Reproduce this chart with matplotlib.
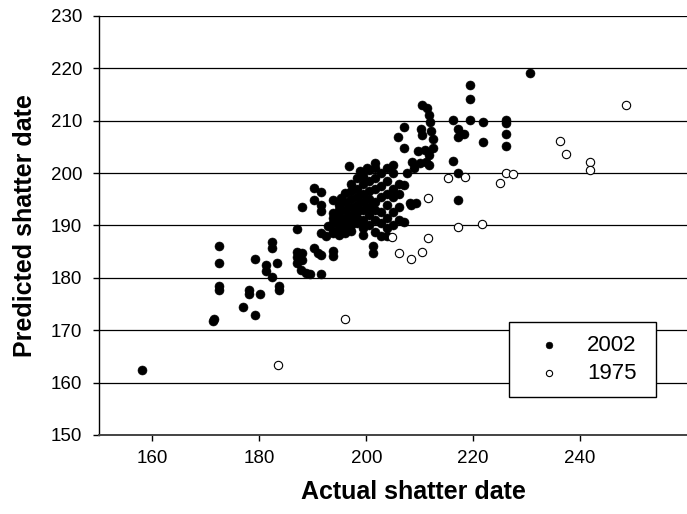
import matplotlib
matplotlib.use("Agg")
from matplotlib import pyplot as plt

plt.rcParams["font.family"] = ["Liberation Sans", "DejaVu Sans"]

# 2002 season: actual vs predicted shatter date
x_2002 = [158.0, 171.3, 171.5, 172.4, 172.4, 172.4, 172.4, 177.0, 178.0, 178.0,
          179.1, 179.1, 180.2, 181.3, 181.3, 182.3, 182.3, 182.3, 183.3, 183.6,
          183.6, 187.0, 187.0, 187.0, 187.0, 188.0, 188.0, 187.7, 188.7, 189.5,
          191.5, 188.0, 190.2, 191.5, 190.2, 191.5, 191.5, 190.2, 191.0, 191.6,
          193.7, 193.7, 191.5, 192.4, 192.8, 193.7, 195.2, 196.1, 193.7, 196.7,
          193.8, 193.8, 193.8, 193.8,
          194.9, 194.9, 194.9, 194.9, 194.9, 194.9, 194.9,
          196.0, 196.0, 196.0, 196.0, 196.0, 196.0,
          197.1, 197.1, 197.1, 197.1, 197.1, 197.1, 197.1, 197.1,
          198.3, 198.3, 198.3, 198.3, 198.3, 198.3, 198.3,
          199.4, 199.4, 199.4, 199.4, 199.4, 199.4, 199.4, 199.4,
          200.5, 200.5, 200.5, 200.5, 200.5, 200.5, 200.5, 201.2, 201.2,
          201.6, 201.6, 201.6, 201.6, 201.6, 201.6, 201.6, 201.6,
          202.8, 202.8, 202.8, 202.8, 202.8, 202.8,
          203.9, 203.9, 203.9, 203.9, 203.9, 203.9, 203.9,
          205.0, 205.0, 205.0, 205.0, 205.0, 205.0,
          206.2, 206.2, 206.2, 206.2,
          198.9, 200.2,
          207.1, 208.2, 209.3, 208.4, 207.1,
          206.0, 207.1, 207.1,
          208.6, 210.0, 211.1, 211.8, 209.6, 210.9,
          210.4, 211.4, 211.7, 212.0,
          210.2, 210.5, 212.1, 212.5, 212.5, 211.8,
          207.7, 209.0,
          216.2, 219.4, 221.8, 226.2, 226.2,
          219.4, 219.4,
          217.2, 217.7, 217.2, 218.3,
          221.8, 226.2, 226.2,
          216.2, 217.2, 217.2, 230.7]
y_2002 = [162.4, 171.8, 172.2, 186.0, 182.9, 178.5, 177.7, 174.4, 177.6, 176.9,
          183.6, 172.9, 176.9, 182.5, 181.4, 186.9, 185.7, 180.1, 182.9, 178.5,
          177.7, 189.3, 185.0, 183.9, 182.8, 184.7, 183.4, 181.5, 180.9, 180.8,
          180.8, 193.5, 197.1, 196.3, 194.9, 193.9, 192.8, 185.7, 184.8, 184.4,
          185.2, 184.2, 188.5, 187.9, 189.9, 194.9, 195.2, 196.2, 192.3, 201.4,
          190.5, 191.5, 189.0, 188.5,
          189.0, 190.0, 191.5, 192.5, 193.0, 194.0, 188.2,
          188.5, 189.5, 190.5, 191.5, 193.0, 194.5,
          189.0, 190.0, 191.0, 192.0, 193.5, 195.0, 196.5, 198.0,
          190.5, 191.5, 192.5, 194.0, 195.5, 197.0, 199.0,
          189.5, 191.0, 193.0, 194.5, 196.0, 198.0, 199.5, 188.2,
          190.0, 192.0, 193.5, 195.0, 196.5, 198.5, 200.5, 186.0, 184.7,
          188.8, 191.0, 193.0, 194.5, 197.0, 199.0, 201.0, 201.9,
          187.9, 190.5, 192.5, 195.5, 197.5, 200.0,
          187.9, 189.5, 191.5, 194.0, 196.0, 198.5, 200.9,
          190.0, 192.5, 195.5, 197.0, 200.0, 201.6,
          191.0, 193.5, 196.0, 198.0,
          200.4, 200.9,
          190.7, 194.3, 194.3, 193.9, 197.7,
          206.9, 208.9, 204.8,
          202.2, 202.0, 202.2, 201.6, 204.2, 204.5,
          213.0, 212.4, 211.1, 209.8,
          208.5, 207.3, 208.1, 206.6, 204.8, 203.5,
          200.0, 200.9,
          210.2, 210.2, 209.8, 210.2, 209.6,
          216.8, 214.1,
          208.4, 207.5, 206.9, 207.5,
          206.0, 207.5, 205.2,
          202.4, 200.0, 194.8, 219.2]

# 1975 season
x_1975 = [183.5, 196.1, 204.9, 206.2, 208.3, 210.5, 211.6, 211.6, 215.2, 217.2,
          218.5, 221.7, 225.1, 226.2, 227.5, 236.3, 237.4, 241.8, 241.8, 248.6]
y_1975 = [163.4, 172.2, 187.8, 184.8, 183.6, 185.0, 187.6, 195.3, 199.0, 189.7,
          199.3, 190.3, 198.2, 200.1, 199.9, 206.2, 203.6, 202.1, 200.5, 213.0]

x_ticks = [160, 180, 200, 220, 240]
y_ticks = [150, 160, 170, 180, 190, 200, 210, 220, 230]

fig = plt.figure(figsize=(6.87, 5.14), dpi=100)
ax = fig.add_axes([0.1441, 0.1537, 0.8559, 0.8152])

ax.scatter(x_2002, y_2002, s=42, c="black", edgecolors="black", linewidths=0.4,
           label="2002", zorder=3)
ax.scatter(x_1975, y_1975, s=36, c="white", edgecolors="black", linewidths=0.8,
           label="1975", zorder=3)

ax.set_xlim(150, 260)
ax.set_ylim(150, 230)
ax.set_xticks(x_ticks)
ax.set_yticks(y_ticks)
ax.yaxis.grid(True, color="black", linewidth=0.9)
ax.set_axisbelow(True)

for side in ["top", "right"]:
    ax.spines[side].set_visible(False)
ax.spines["left"].set_linewidth(1.0)
ax.spines["bottom"].set_linewidth(1.4)
ax.spines["bottom"].set_color("#444444")

ax.tick_params(axis="both", direction="out", length=4, width=1.0, labelsize=13.5)
ax.tick_params(axis="y", pad=8)
ax.tick_params(axis="x", pad=7)

ax.set_xlabel("Actual shatter date", fontsize=18, fontweight="bold")
ax.xaxis.set_label_coords(0.534, -0.108)
ax.set_ylabel("Predicted shatter date", fontsize=18, fontweight="bold", labelpad=10)

leg = ax.legend(loc="center", bbox_to_anchor=(509.3 / 687, 1 - 398 / 514, 146.7 / 687, 77.3 / 514),
                bbox_transform=fig.transFigure, mode="expand", borderaxespad=0,
                fontsize=16, markerscale=0.75, handlelength=2.4, handletextpad=0.5,
                borderpad=0.6, labelspacing=0.3, fancybox=False, framealpha=1,
                edgecolor="black")
leg.get_frame().set_linewidth(1.0)

fig.savefig("out.png", dpi=100)
